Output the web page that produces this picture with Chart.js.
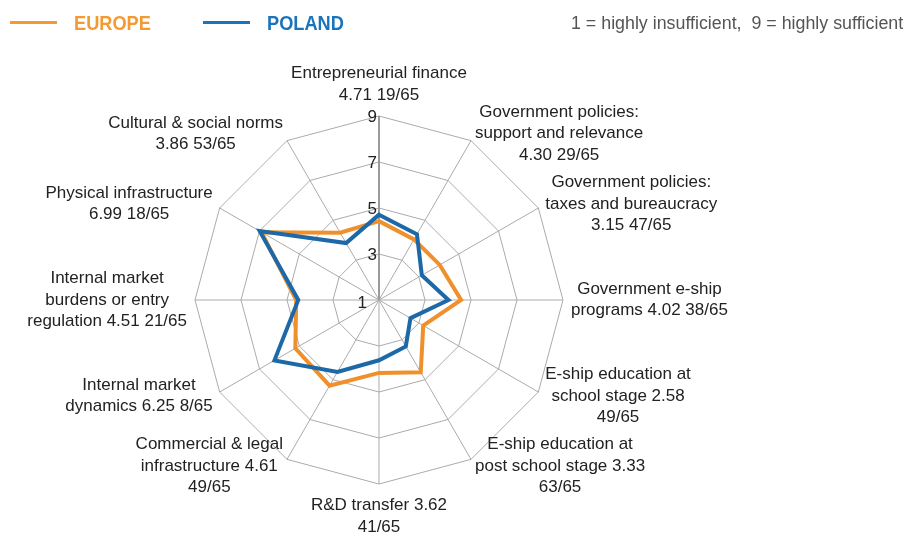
<!DOCTYPE html>
<html>
<head>
<meta charset="utf-8">
<script src="https://cdn.jsdelivr.net/npm/chart.js@4"></script>
<style>
  body { margin: 0; background: #fff; width: 908px; height: 535px; overflow: hidden; position: relative; font-family: "Liberation Sans", Arial, sans-serif; }
  .swatch { position: absolute; top: 21px; height: 3px; z-index: 2; }
  .name { position: absolute; top: 13px; line-height: 1; font-weight: bold; font-size: 20px; z-index: 2; transform: scaleX(0.91); transform-origin: left center; }
  .note { position: absolute; top: 14px; left: 571px; line-height: 1; font-size: 18px; color: #555; z-index: 2; white-space: nowrap; transform: scaleX(0.99); transform-origin: left center; }
  #wrap { position: absolute; left: 0; top: 0; width: 908px; height: 535px; }
</style>
</head>
<body>
<div class="swatch" style="left:10px;width:47px;background:#f39a32"></div>
<div class="name" style="left:74px;color:#f39a32">EUROPE</div>
<div class="swatch" style="left:203px;width:47px;background:#1a74bb"></div>
<div class="name" style="left:267px;color:#1a74bb">POLAND</div>
<div class="note">1 = highly insufficient,&nbsp; 9 = highly sufficient</div>
<div id="wrap"><canvas id="radar"></canvas></div>
<script>
// radar chart - framework conditions

const categories = [
    ["Entrepreneurial finance", "4.71 19/65"],
    ["Government policies:", "support and relevance", "4.30 29/65"],
    ["Government policies:", "taxes and bureaucracy", "3.15 47/65"],
    ["Government e-ship", "programs 4.02 38/65"],
    ["E-ship education at", "school stage 2.58", "49/65"],
    ["E-ship education at", "post school stage 3.33", "63/65"],
    ["R&D transfer 3.62", "41/65"],
    ["Commercial & legal", "infrastructure 4.61", "49/65"],
    ["Internal market", "dynamics 6.25 8/65"],
    ["Internal market", "burdens or entry", "regulation 4.51 21/65"],
    ["Physical infrastructure", "6.99 18/65"],
    ["Cultural & social norms", "3.86 53/65"]
];

const poland = [4.71, 4.30, 3.15, 4.02, 2.58, 3.33, 3.62, 4.61, 6.25, 4.51, 6.99, 3.86];
const europe = [4.43, 4.04, 4.05, 4.57, 3.22, 4.63, 4.17, 5.30, 5.20, 4.60, 6.90, 4.38];

const tickValues = [1, 3, 5, 7, 9];

const labelFont = '17px "Liberation Sans", Arial, sans-serif';
const lineH = 21.5;

// point labels centred line by line (excel style), tick numbers left of the axis
const labelPlugin = {
    id: 'labelPlugin',
    afterDraw(chart) {
        const ctx = chart.ctx;
        const scale = chart.scales.r;
        const n = categories.length;
        ctx.save();
        ctx.fillStyle = '#222';
        ctx.font = labelFont;
        ctx.textBaseline = 'middle';
        for (let i = 0; i < n; i++) {
            const lines = categories[i];
            const widths = lines.map(s => ctx.measureText(s).width);
            const w = Math.max(...widths);
            const h = lines.length * lineH;
            let cx, top;
            if (i === 0) {
                const p = scale.getPointPosition(i, scale.drawingArea + 10);
                cx = p.x; top = p.y - h;
            } else if (i === n / 2) {
                const p = scale.getPointPosition(i, scale.drawingArea + 11);
                cx = p.x; top = p.y;
            } else {
                const p = scale.getPointPosition(i, scale.drawingArea + 8);
                cx = i < n / 2 ? p.x + w / 2 : p.x - w / 2;
                top = p.y - h / 2;
            }
            ctx.textAlign = 'center';
            for (let j = 0; j < lines.length; j++) {
                ctx.fillText(lines[j], cx, top + (j + 0.5) * lineH);
            }
        }
        ctx.font = '17px "Liberation Sans", Arial, sans-serif';
        ctx.textAlign = 'right';
        tickValues.forEach(v => {
            const d = scale.getDistanceFromCenterForValue(v);
            const dx = v === 1 ? 12 : 2;
            const dy = v === 1 ? 3 : 1;
            ctx.fillText(String(v), scale.xCenter - dx, scale.yCenter - d + dy);
        });
        ctx.restore();
    }
};

const radarCanvas = document.getElementById("radar");

const radarData = {
    labels: categories,
    datasets: [{
        label: 'POLAND',
        data: poland,
        borderColor: '#1d69a8',
        borderWidth: 4,
        pointRadius: 0,
        fill: false,
        order: 0
    }, {
        label: 'EUROPE',
        data: europe,
        borderColor: '#f0902c',
        borderWidth: 4,
        pointRadius: 0,
        fill: false,
        order: 1
    }]
};

const radarOptions = {
    responsive: true,
    maintainAspectRatio: false,
    animation: false,
    layout: {
        padding: { left: 195, right: 345, top: 116, bottom: 51 }
    },
    scales: {
        r: {
            min: 1,
            max: 9,
            ticks: {
                stepSize: 2,
                display: false
            },
            grid: {
                color: '#ababab',
                lineWidth: 1
            },
            angleLines: {
                color: ctx => ctx.index === 0 ? '#9a9a9a' : '#ababab',
                lineWidth: ctx => ctx.index === 0 ? 2 : 1
            },
            pointLabels: {
                display: false
            }
        }
    },
    plugins: {
        legend: { display: false },
        tooltip: { enabled: false }
    }
};

let radarChart = new Chart(radarCanvas, {
    type: 'radar',
    data: radarData,
    options: radarOptions,
    plugins: [labelPlugin]
});
</script>
</body>
</html>
